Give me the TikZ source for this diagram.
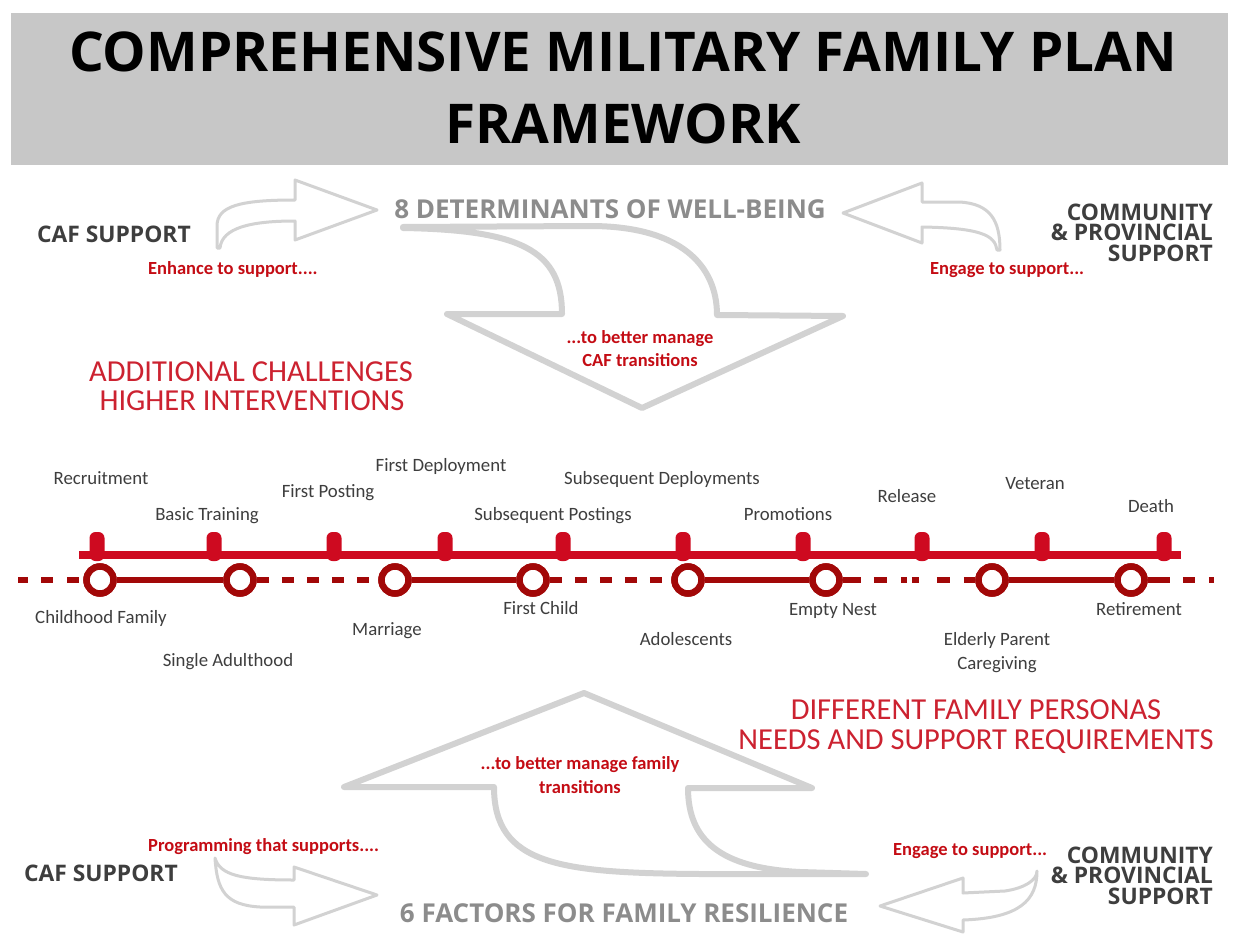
\documentclass[tikz,border=0pt]{standalone}
\usepackage{fontspec}
\setmainfont{Carlito}
\newfontfamily\osans{Open Sans}
\definecolor{hdr}{RGB}{199,199,199}
\definecolor{agray}{RGB}{210,210,210}
\definecolor{tgray}{RGB}{140,140,140}
\definecolor{dgray}{RGB}{62,62,62}
\definecolor{lred}{RGB}{206,10,32}
\definecolor{dred}{RGB}{162,8,8}
\definecolor{txred}{RGB}{196,12,20}
\definecolor{hred}{RGB}{204,34,48}
\begin{document}
\begin{tikzpicture}[x=1pt,y=-1pt,
  ttl/.style={font=\osans\bfseries\fontsize{54.8}{60}\selectfont, text=black, anchor=base, inner sep=0},
  gh/.style={font=\osans\bfseries\fontsize{26}{30}\selectfont, text=tgray, anchor=base, inner sep=0},
  side/.style={font=\osans\bfseries\fontsize{22.8}{24}\selectfont, text=dgray, anchor=base, inner sep=0, text height=16pt, text depth=0pt},
  sider/.style={side, anchor=base east},
  sidel/.style={side, anchor=base west},
  note/.style={font=\bfseries\fontsize{18.5}{20}\selectfont, text=txred, anchor=base west, inner sep=0},
  notec/.style={note, anchor=base},
  bighead/.style={font=\fontsize{30.5}{32}\selectfont, text=hred, anchor=base, inner sep=0},
  lab/.style={font=\fontsize{18.8}{20}\selectfont, text=dgray, anchor=base, inner sep=0},
  stage/.style={circle, draw=dred, line width=6.5pt, fill=white, minimum size=27pt, inner sep=0pt},
  solidlink/.style={draw=dred, line width=5.5pt},
  dashlink/.style={draw=dred, line width=5.5pt, dash pattern=on 12pt off 13pt},
  smallarrow/.style={draw=agray, line width=3pt, fill=white, line join=round},
  bigarrow/.style={draw=agray, line width=6pt, fill=white, line join=round},
  tab/.style={fill=lred, rounded corners=6pt}
]
\useasboundingbox (0,0) rectangle (1237,934);
\fill[white] (0,0) rectangle (1237,934);
% header
\fill[hdr] (11,13) rectangle (1228,165);
\node[ttl] (t1) at (623,72) {COMPREHENSIVE MILITARY FAMILY PLAN};
\node[ttl] (t2) at (623,143) {FRAMEWORK};

% small arrows top
\path[smallarrow] (217,248) -- (217,226) .. controls (217,206) and (240,200) .. (295,200) -- (295,180) -- (377,210) -- (295,240) -- (295,221) .. controls (250,221) and (222,228) .. (220,248) -- cycle;
\path[smallarrow] (843,213) -- (922,183) -- (922,202) -- (960,202) .. controls (990,204) and (1000,220) .. (1000,250) -- (997,250) .. controls (995,235) and (980,228) .. (922,227) -- (922,243) -- cycle;

% big arrow down
\path[bigarrow] (403,227) -- (590,226) .. controls (680,226) and (717,265) .. (717,315) -- (843,316) -- (642,408) -- (447,314) -- (562,314) .. controls (562,250) and (520,230) .. (403,228) -- cycle;

% big arrow up
\path[bigarrow] (584,693) -- (812,788) -- (688,788) .. controls (688,840) and (720,868) .. (800,872) -- (866,874) -- (700,874) .. controls (560,873) and (494,865) .. (494,787) -- (344,787) -- cycle;

% small arrows bottom
\path[smallarrow] (215,858) .. controls (220,875) and (240,880) .. (294,880) -- (294,867) -- (377,895) -- (294,925) -- (294,907) -- (260,907) .. controls (225,905) and (217,890) .. (215,858) -- cycle;
\path[smallarrow] (880,906) -- (963,878) -- (963,893) -- (1005,891) .. controls (1025,888) and (1037,880) .. (1037,871) .. controls (1037,900) and (1020,918) .. (963,920) -- (963,932) -- cycle;

% top texts
\node[gh] (det) at (610,218) {8 DETERMINANTS OF WELL-BEING};
\node[sidel] (cafT) at (37,242) {CAF SUPPORT};
\node[note] (enh) at (148,274) {Enhance to support....};
\node[sider] (comT1) at (1213,220) {COMMUNITY};
\node[sider] (comT2) at (1213,240) {\& PROVINCIAL};
\node[sider] (comT3) at (1213,261) {SUPPORT};
\node[note] (engT) at (930,274) {Engage to support...};
\node[notec] (mgr1) at (640,343) {...to better manage};
\node[notec] (mgr2) at (640,366) {CAF transitions};
\node[bighead] (add1) at (251,381) {ADDITIONAL CHALLENGES};
\node[bighead] (add2) at (252,410) {HIGHER INTERVENTIONS};

% timeline bar
\fill[lred] (79,551) rectangle (1181,559);
\foreach \x in {97,214,334,445,563,683,803,922,1042,1164}
  \path[tab] (\x-7.5,561) rectangle (\x+7.5,532);

% stages
\node[stage] (c1) at (100,580) {};
\node[stage] (c2) at (240,580) {};
\node[stage] (c3) at (395,580) {};
\node[stage] (c4) at (533,580) {};
\node[stage] (c5) at (688,580) {};
\node[stage] (c6) at (826,580) {};
\node[stage] (c7) at (992,580) {};
\node[stage] (c8) at (1131,580) {};
\coordinate (lend) at (18,580);
\coordinate (rend) at (1214,580);
\draw[dashlink, dash pattern=on 10pt off 13pt on 12pt off 14pt on 12pt off 14pt on 30pt] (lend) -- (c1);
\draw[solidlink] (c1) -- (c2);
\draw[dashlink] (c2) -- (c3);
\draw[solidlink] (c3) -- (c4);
\draw[dashlink] (c4) -- (c5);
\draw[solidlink] (c5) -- (c6);
\draw[dashlink, dash pattern=on 18pt off 13pt on 13pt off 14pt on 6pt off 5pt on 7pt off 18pt on 13pt off 14pt on 30pt] (c6) -- (c7);
\draw[solidlink] (c7) -- (c8);
\draw[dashlink, dash pattern=on 22pt off 13pt on 12pt off 14pt on 12pt off 20pt] (c8) -- (rend);
\node[stage] at (c1) {};
\node[stage] at (c2) {};
\node[stage] at (c3) {};
\node[stage] at (c4) {};
\node[stage] at (c5) {};
\node[stage] at (c6) {};
\node[stage] at (c7) {};
\node[stage] at (c8) {};

% labels above
\node[lab] (l1) at (101,484) {Recruitment};
\node[lab] (l2) at (207,520) {Basic Training};
\node[lab] (l3) at (328,497) {First Posting};
\node[lab] (l4) at (441,471) {First Deployment};
\node[lab] (l5) at (662,484) {Subsequent Deployments};
\node[lab] (l6) at (553,520) {Subsequent Postings};
\node[lab] (l7) at (788,520) {Promotions};
\node[lab] (l8) at (907,502) {Release};
\node[lab] (l9) at (1035,489) {Veteran};
\node[lab] (l10) at (1151,512) {Death};
% labels below
\node[lab] (b1) at (101,623) {Childhood Family};
\node[lab] (b2) at (228,666) {Single Adulthood};
\node[lab] (b3) at (387,635) {Marriage};
\node[lab] (b4) at (541,614) {First Child};
\node[lab] (b5) at (686,645) {Adolescents};
\node[lab] (b6) at (833,615) {Empty Nest};
\node[lab] (b7) at (997,645) {Elderly Parent};
\node[lab] (b7b) at (997,669) {Caregiving};
\node[lab] (b8) at (1139,615) {Retirement};

% bottom texts
\node[bighead] (dif1) at (976,719) {DIFFERENT FAMILY PERSONAS};
\node[bighead] (dif2) at (976,749) {NEEDS AND SUPPORT REQUIREMENTS};
\node[notec] (fam1) at (580,769) {...to better manage family};
\node[notec] (fam2) at (580,793) {transitions};
\node[note] (prog) at (148,851) {Programming that supports....};
\node[sidel] (cafB) at (24,881) {CAF SUPPORT};
\node[note] (engB) at (893,855) {Engage to support...};
\node[sider] (comB1) at (1213,863) {COMMUNITY};
\node[sider] (comB2) at (1213,883) {\& PROVINCIAL};
\node[sider] (comB3) at (1213,904) {SUPPORT};
\node[gh] (fac) at (624,922) {6 FACTORS FOR FAMILY RESILIENCE};
\end{tikzpicture}
\end{document}
